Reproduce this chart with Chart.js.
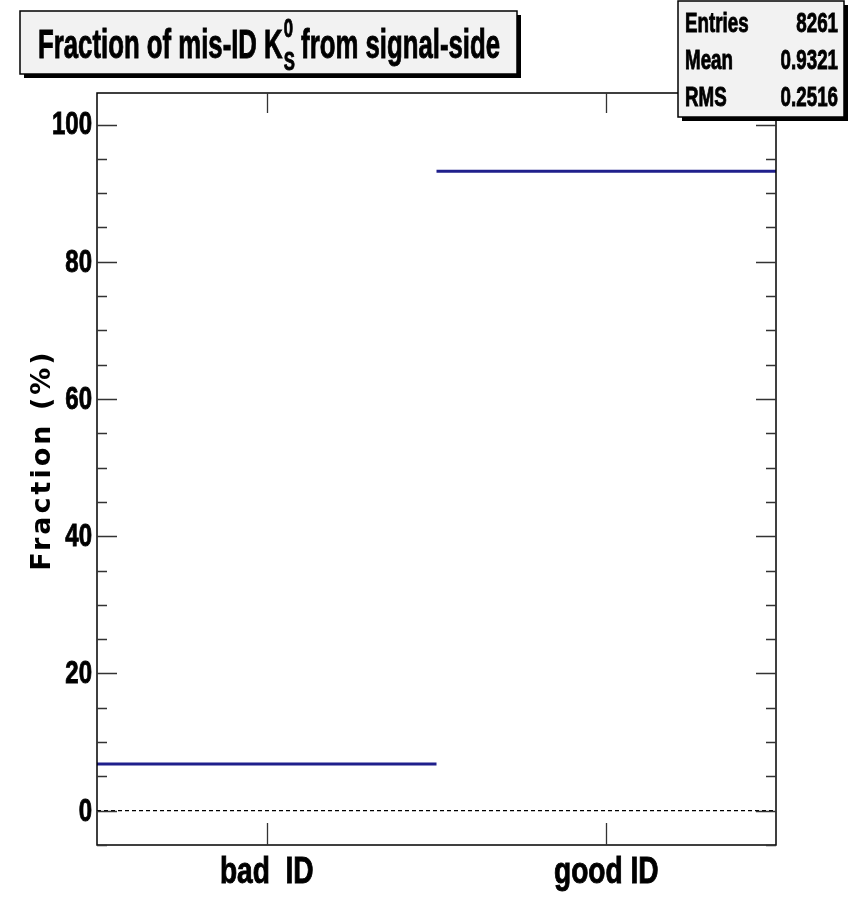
<!DOCTYPE html>
<html>
<head>
<meta charset="utf-8">
<script src="https://cdn.jsdelivr.net/npm/chart.js@4"></script>
<style>
  html, body { margin: 0; padding: 0; background: #fff; }
  canvas { display: block; }
</style>
</head>
<body>
<canvas id="myChart" width="854" height="901"></canvas>
<script>
// histogram bins and contents (percent)
var categories = ['bad  ID', 'good ID'];
var fractions = [6.79, 93.21];
var yTicks = [0, 20, 40, 60, 80, 100];
var yMinorStep = 5;

// stats box
var statNames = ['Entries', 'Mean', 'RMS'];
var statValues = ['8261', '0.9321', '0.2516'];

var SANS = "'Liberation Sans', Arial, sans-serif";

// each bin is a flat segment from i to i+1, broken between bins
var histPoints = [];
fractions.forEach(function (v, i) {
    histPoints.push({ x: i, y: v }, { x: i + 1, y: v }, { x: i + 1, y: null });
});

// condensed heavy text: squeeze horizontally around the anchor point
function narrowText(ctx, text, x, y, size, sx, align) {
    ctx.save();
    ctx.translate(x, y);
    ctx.scale(sx, 1);
    ctx.font = 'bold ' + size + 'px ' + SANS;
    ctx.textAlign = align || 'left';
    ctx.fillStyle = '#000';
    ctx.strokeStyle = '#000';
    ctx.lineWidth = 0.9;
    ctx.fillText(text, 0, 0);
    ctx.strokeText(text, 0, 0);
    ctx.restore();
}

function drawPave(ctx, x, y, w, h) {
    ctx.fillStyle = '#000';
    ctx.fillRect(x + 4, y + 4, w, h);
    ctx.fillStyle = '#f2f2f2';
    ctx.fillRect(x, y, w, h);
    ctx.strokeStyle = '#000';
    ctx.lineWidth = 1.5;
    ctx.strokeRect(x, y, w, h);
}

var rootFrame = {
    id: 'rootFrame',
    beforeDatasetsDraw: function (chart) {
        var ctx = chart.ctx, a = chart.chartArea, y0 = chart.scales.y.getPixelForValue(0);
        ctx.save();
        ctx.strokeStyle = '#000';
        ctx.lineWidth = 1.2;
        ctx.setLineDash([4, 3]);
        ctx.beginPath();
        ctx.moveTo(a.left, y0);
        ctx.lineTo(a.right, y0);
        ctx.stroke();
        ctx.restore();
    },
    afterDraw: function (chart) {
        var ctx = chart.ctx, a = chart.chartArea;
        var xs = chart.scales.x, ys = chart.scales.y;
        ctx.save();
        ctx.strokeStyle = '#000';
        ctx.lineWidth = 1.5;
        ctx.strokeRect(a.left, a.top, a.right - a.left, a.bottom - a.top);

        // y ticks on both sides, pointing inwards
        ctx.lineWidth = 1.3;
        ctx.strokeStyle = '#333';
        ctx.beginPath();
        for (var v = Math.ceil(ys.min / yMinorStep) * yMinorStep; v <= ys.max; v += yMinorStep) {
            var py = Math.round(ys.getPixelForValue(v)) + 0.5;
            var len = (v % 20 === 0) ? 20 : 10;
            ctx.moveTo(a.left, py); ctx.lineTo(a.left + len, py);
            ctx.moveTo(a.right, py); ctx.lineTo(a.right - len, py);
        }
        // x ticks at bin centres, bottom and top
        categories.forEach(function (c, i) {
            var px = Math.round(xs.getPixelForValue(i + 0.5)) + 0.5;
            ctx.moveTo(px, a.bottom); ctx.lineTo(px, a.bottom - 22);
            ctx.moveTo(px, a.top); ctx.lineTo(px, a.top + 20);
        });
        ctx.stroke();

        // tick labels
        ctx.textBaseline = 'middle';
        ys.ticks.forEach(function (t) {
            narrowText(ctx, String(t.value), a.left - 5, ys.getPixelForValue(t.value) + 1, 32, 0.75, 'right');
        });
        ctx.textBaseline = 'alphabetic';
        xs.ticks.forEach(function (t, i) {
            narrowText(ctx, categories[i], xs.getPixelForValue(t.value), a.bottom + 38, 36, 0.78, 'center');
        });

        // y axis title
        ctx.save();
        ctx.translate(43, 460);
        ctx.rotate(-Math.PI / 2);
        ctx.fillStyle = '#000';
        ctx.font = "bold 27px 'DejaVu Sans'";
        ctx.letterSpacing = '3px';
        ctx.textAlign = 'center';
        ctx.textBaseline = 'middle';
        ctx.fillText('Fraction (%)', 0, 0);
        ctx.restore();

        // title pave with K_S^0
        drawPave(ctx, 20, 11, 497, 63);
        ctx.textBaseline = 'alphabetic';
        var bigSize = 40, smallSize = 26;
        var p1 = 'Fraction of mis-ID K', p2 = ' from signal-side';
        ctx.font = 'bold ' + bigSize + 'px ' + SANS;
        var w1 = ctx.measureText(p1).width, w2 = ctx.measureText(p2).width;
        ctx.font = 'bold ' + smallSize + 'px ' + SANS;
        var ws = ctx.measureText('S').width;
        var sx = 462 / (w1 + ws + w2);
        var tx = 38, base = 58;
        narrowText(ctx, p1, tx, base, bigSize, sx);
        narrowText(ctx, '0', tx + w1 * sx + 1, base - 21, smallSize, sx);
        narrowText(ctx, 'S', tx + w1 * sx + 1, base + 12, smallSize, sx);
        narrowText(ctx, p2, tx + (w1 + ws) * sx, base, bigSize, sx);

        // stats pave
        drawPave(ctx, 678, 1, 166, 116);
        ctx.textBaseline = 'middle';
        statNames.forEach(function (n, i) {
            var ry = 24 + i * 37;
            narrowText(ctx, n, 685, ry, 28, 0.67, 'left');
            narrowText(ctx, statValues[i], 838, ry, 28, 0.67, 'right');
        });
        ctx.restore();
    }
};

var ctx = document.getElementById('myChart').getContext('2d');
var myChart = new Chart(ctx, {
    type: 'line',
    data: {
        datasets: [{
            data: histPoints,
            borderColor: '#1f1f8c',
            borderWidth: 3,
            pointRadius: 0,
            spanGaps: false,
            fill: false,
            tension: 0
        }]
    },
    options: {
        responsive: false,
        animation: false,
        layout: { padding: { top: 93, right: 78, left: 0, bottom: 0 } },
        plugins: { legend: { display: false }, tooltip: { enabled: false } },
        scales: {
            x: {
                type: 'linear',
                min: 0,
                max: categories.length,
                afterBuildTicks: function (s) {
                    s.ticks = categories.map(function (c, i) { return { value: i + 0.5 }; });
                },
                afterFit: function (s) { s.height = 56; },
                grid: { display: false, drawTicks: false },
                border: { display: false },
                ticks: { display: false, autoSkip: false }
            },
            y: {
                min: -5,
                max: 104.6,
                afterBuildTicks: function (s) {
                    s.ticks = yTicks.map(function (v) { return { value: v }; });
                },
                afterFit: function (s) { s.width = 97; },
                grid: { display: false, drawTicks: false },
                border: { display: false },
                ticks: { display: false }
            }
        }
    },
    plugins: [rootFrame]
});
</script>
</body>
</html>
